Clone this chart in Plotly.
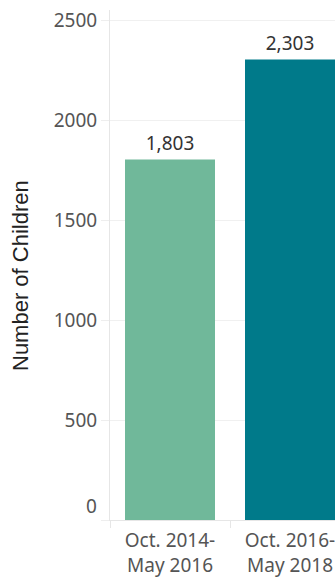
import plotly.graph_objects as go

# Reporting periods and number of children in each
periods = ["Oct. 2014-<br>May 2016", "Oct. 2016-<br>May 2018"]
children = [1803, 2303]
bar_colors = ["#70B89A", "#007A8A"]
y_ticks = [0, 500, 1000, 1500, 2000, 2500]
y_title = "Number of Children"

fig = go.Figure(
    go.Bar(
        x=periods,
        y=children,
        marker=dict(color=bar_colors, line=dict(width=0)),
        width=0.75,
        texttemplate="%{y:,}",
        textposition="outside",
        textfont=dict(family="Noto Sans", size=19, color="#333333"),
        cliponaxis=False,
    )
)

# the zero label sits just above the baseline so it clears the x axis
tick_text = ["" if v == 0 else str(v) for v in y_ticks]
fig.add_annotation(
    text=str(y_ticks[0]),
    x=0, xref="paper", xanchor="right", xshift=-11,
    y=y_ticks[0], yref="y", yanchor="middle", yshift=14,
    showarrow=False,
    font=dict(family="Noto Sans", size=19, color="#555555"),
)

# vertical axis title
fig.add_annotation(
    text=y_title,
    textangle=-90,
    x=0, xref="paper", xanchor="center", xshift=-90,
    y=0.5, yref="paper", yanchor="middle", yshift=-11,
    showarrow=False,
    font=dict(family="Liberation Sans", size=22, color="#222222"),
)

fig.update_layout(
    width=335,
    height=581,
    margin=dict(l=110, r=0, t=10, b=61),
    paper_bgcolor="white",
    plot_bgcolor="white",
    showlegend=False,
    font=dict(family="Noto Sans", size=19, color="#555555"),
    xaxis=dict(
        type="category",
        range=[-0.5, 1.375],
        showgrid=False,
        ticks="outside",
        tickson="boundaries",
        ticklen=7,
        tickcolor="#e6e6e6",
        showline=True,
        linecolor="#e6e6e6",
        ticklabelstandoff=3,
        tickfont=dict(family="Noto Sans", size=19, color="#555555"),
        automargin=False,
    ),
    yaxis=dict(
        range=[0, 2550],
        tickvals=y_ticks,
        ticktext=tick_text,
        showgrid=True,
        gridcolor="#f0f0f0",
        zeroline=False,
        showline=True,
        linecolor="#e6e6e6",
        ticks="outside",
        ticklen=8,
        tickcolor="#eeeeee",
        tickfont=dict(family="Noto Sans", size=19, color="#555555"),
        automargin=False,
    ),
)

fig.write_html("out.html")
